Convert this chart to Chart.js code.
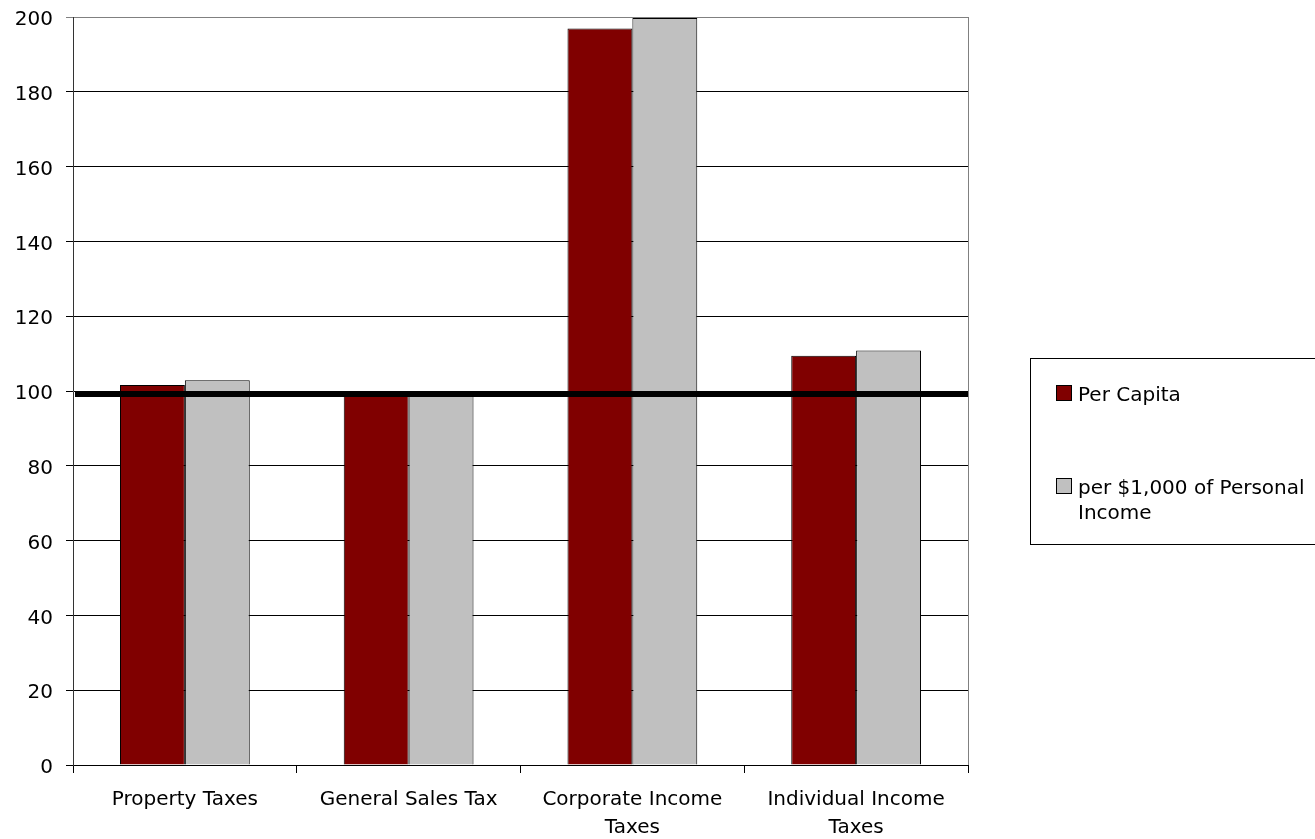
<!DOCTYPE html>
<html>
<head>
<meta charset="utf-8">
<script src="https://cdn.jsdelivr.net/npm/chart.js@4.4.1/dist/chart.umd.min.js"></script>
<style>
  html, body { margin: 0; padding: 0; background: #fff; }
  #grafico { display: block; }
</style>
</head>
<body>
<canvas id="grafico" width="1315" height="839"></canvas>
<script>
// --- DADOS ---
const categorias = [
    ['Property Taxes'],
    ['General Sales Tax'],
    ['Corporate Income', 'Taxes'],
    ['Individual Income', 'Taxes']
];
const perCapita = [101.6, 98.7, 196.9, 109.4];
const porRenda = [102.9, 98.9, 199.7, 110.8];
const mediaNacional = 99.2;
const eixoYMin = 0;
const eixoYMax = 200;
const eixoYPasso = 20;
const nomesSeries = ['Per Capita', 'per $1,000 of Personal Income'];
const legendaLinhas = [['Per Capita'], ['per $1,000 of Personal', 'Income']];

const FONTE = '"DejaVu Sans", Verdana, sans-serif';
const coresSeries = ['#800000', '#C0C0C0'];

// Linha da média + moldura direita + legenda em caixa
const extrasPlugin = {
    id: 'extras',
    beforeDatasetsDraw(chart) {
        const { ctx, chartArea } = chart;
        ctx.save();
        ctx.strokeStyle = '#808080';
        ctx.lineWidth = 1;
        ctx.beginPath();
        ctx.moveTo(Math.round(chartArea.right) + 0.5, chartArea.top);
        ctx.lineTo(Math.round(chartArea.right) + 0.5, chartArea.bottom);
        ctx.stroke();
        ctx.restore();
    },
    afterDatasetsDraw(chart) {
        const { ctx, chartArea, scales } = chart;
        const y = scales.y.getPixelForValue(mediaNacional);
        ctx.save();
        ctx.strokeStyle = '#000';
        ctx.lineWidth = 6;
        ctx.beginPath();
        ctx.moveTo(chartArea.left + 2, y);
        ctx.lineTo(chartArea.right, y);
        ctx.stroke();
        ctx.restore();
    },
    afterDraw(chart) {
        const ctx = chart.ctx;
        const boxX = 1030.5, boxY = 358.5;
        ctx.save();
        ctx.fillStyle = '#fff';
        ctx.strokeStyle = '#000';
        ctx.lineWidth = 1;
        ctx.fillRect(boxX, boxY, 300, 186);
        ctx.strokeRect(boxX, boxY, 300, 186);

        ctx.font = '20px ' + FONTE;
        ctx.textBaseline = 'alphabetic';
        const linhasY = [401, 494];
        legendaLinhas.forEach((linhas, i) => {
            const y = linhasY[i];
            ctx.fillStyle = coresSeries[i];
            ctx.fillRect(1057, y - 15, 14, 14);
            ctx.strokeStyle = '#000';
            ctx.strokeRect(1056.5, y - 15.5, 15, 15);
            ctx.fillStyle = '#000';
            linhas.forEach((txt, j) => ctx.fillText(txt, 1078, y + j * 25));
        });
        ctx.restore();
    }
};

const ctx = document.getElementById('grafico').getContext('2d');
const grafico = new Chart(ctx, {
    type: 'bar',
    data: {
        labels: categorias,
        datasets: [
            {
                label: nomesSeries[0],
                data: perCapita,
                backgroundColor: coresSeries[0],
                borderColor: '#000',
                borderWidth: 1
            },
            {
                label: nomesSeries[1],
                data: porRenda,
                backgroundColor: coresSeries[1],
                borderColor: '#000',
                borderWidth: 1
            }
        ]
    },
    options: {
        responsive: false,
        animation: false,
        devicePixelRatio: 1,
        categoryPercentage: 0.58,
        barPercentage: 1.0,
        layout: { padding: { top: 17, right: 347, left: 0, bottom: 0 }, autoPadding: false },
        plugins: {
            legend: { display: false },
            tooltip: { enabled: false }
        },
        scales: {
            x: {
                grid: {
                    display: true,
                    drawOnChartArea: false,
                    drawTicks: true,
                    tickLength: 8,
                    offset: true,
                    color: '#000'
                },
                border: { display: true, color: '#000', width: 1 },
                ticks: {
                    color: '#000',
                    font: { family: FONTE, size: 20, lineHeight: 1.4 },
                    padding: 13,
                    maxRotation: 0,
                    autoSkip: false
                },
                afterFit: (scale) => { scale.height = 74; }
            },
            y: {
                min: eixoYMin,
                max: eixoYMax,
                grid: {
                    color: (c) => (c.tick && c.tick.value === eixoYMax ? '#808080' : '#000'),
                    tickLength: 7,
                    drawTicks: true
                },
                border: { display: true, color: '#333', width: 1 },
                ticks: {
                    stepSize: eixoYPasso,
                    color: '#000',
                    font: { family: FONTE, size: 20 },
                    padding: 13,
                    labelOffset: 3
                },
                afterFit: (scale) => {
                    scale.width = 73;
                    scale.paddingTop = 0;
                    scale.paddingBottom = 0;
                }
            }
        }
    },
    plugins: [extrasPlugin]
});
</script>
</body>
</html>
